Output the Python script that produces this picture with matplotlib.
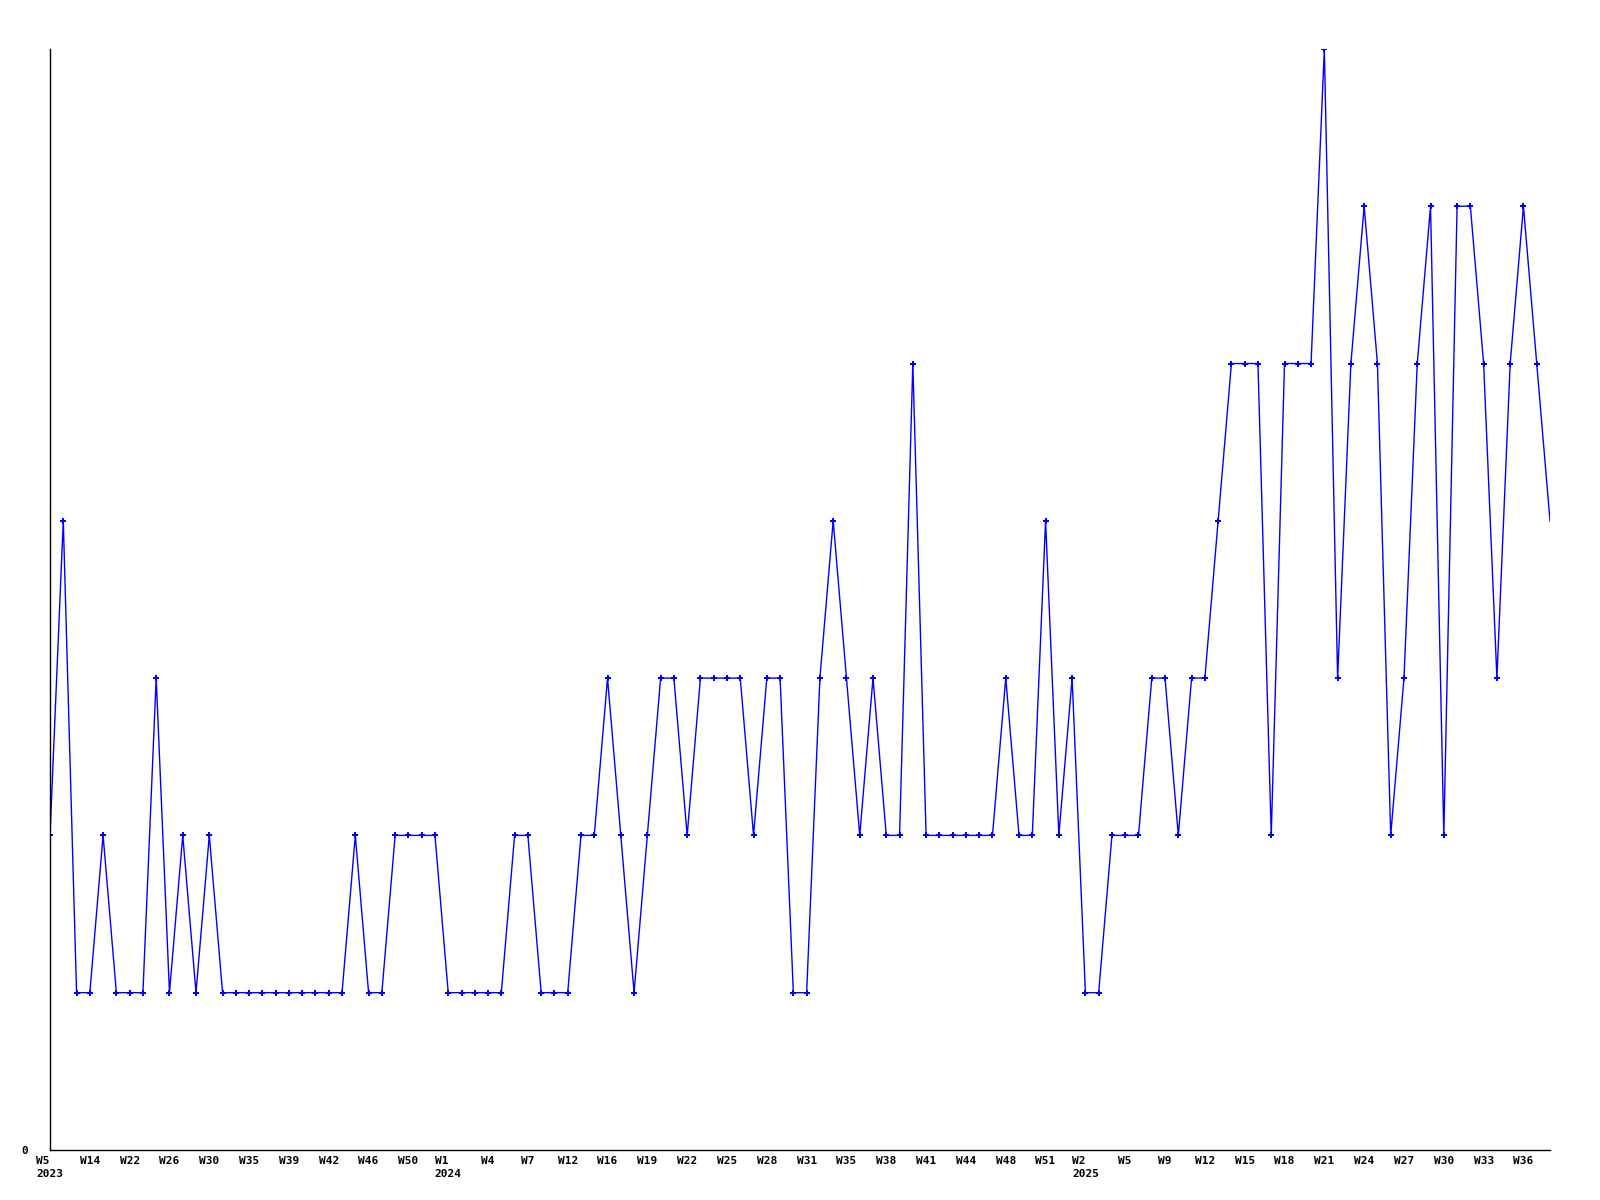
import matplotlib
matplotlib.use("Agg")
import matplotlib.pyplot as plt

# weekly counts, one per data point
values = [2, 4, 1, 1, 2, 1, 1, 1, 3, 1,
          2, 1, 2, 1, 1, 1, 1, 1, 1, 1,
          1, 1, 1, 2, 1, 1, 2, 2, 2, 2,
          1, 1, 1, 1, 1, 2, 2, 1, 1, 1,
          2, 2, 3, 2, 1, 2, 3, 3, 2, 3,
          3, 3, 3, 2, 3, 3, 1, 1, 3, 4,
          3, 2, 3, 2, 2, 5, 2, 2, 2, 2,
          2, 2, 3, 2, 2, 4, 2, 3, 1, 1,
          2, 2, 2, 3, 3, 2, 3, 3, 4, 5,
          5, 5, 2, 5, 5, 5, 7, 3, 5, 6,
          5, 2, 3, 5, 6, 2, 6, 6, 5, 3,
          5, 6, 5, 4]

# one label every third point
tick_labels = ["W5\n2023", "W14", "W22", "W26", "W30", "W35", "W39", "W42", "W46", "W50",
               "W1\n2024", "W4", "W7", "W12", "W16", "W19", "W22", "W25", "W28", "W31",
               "W35", "W38", "W41", "W44", "W48", "W51",
               "W2\n2025", "W5", "W9", "W12", "W15", "W18", "W21", "W24", "W27", "W30",
               "W33", "W36"]
tick_step = 3

fig = plt.figure(figsize=(16, 12), dpi=100)
ax = fig.add_axes([0.03125, 0.0417, 0.9375, 0.9175])

x = list(range(len(values)))
ax.plot(x, values, color="#0000ff", linewidth=1.0,
        marker="P", markersize=4, markeredgewidth=0,
        markevery=list(range(len(values) - 1)))

ax.set_xlim(0, len(values) - 1)
ax.set_ylim(0, 7)

ax.set_xticks([i * tick_step for i in range(len(tick_labels))])
ax.set_xticklabels(tick_labels, fontfamily="DejaVu Sans Mono", fontweight="bold",
                   fontsize=8, multialignment="left", linespacing=1.45)
ax.set_yticks([0])
ax.set_yticklabels(["0"], fontfamily="DejaVu Sans Mono", fontweight="bold", fontsize=8)
ax.tick_params(axis="x", length=0, pad=4)
ax.tick_params(axis="y", length=0, pad=16)

for side in ["top", "right"]:
    ax.spines[side].set_visible(False)
for side in ["left", "bottom"]:
    ax.spines[side].set_linewidth(1.0)
    ax.spines[side].set_color("black")

fig.savefig("out.png", dpi=100, facecolor="white")
